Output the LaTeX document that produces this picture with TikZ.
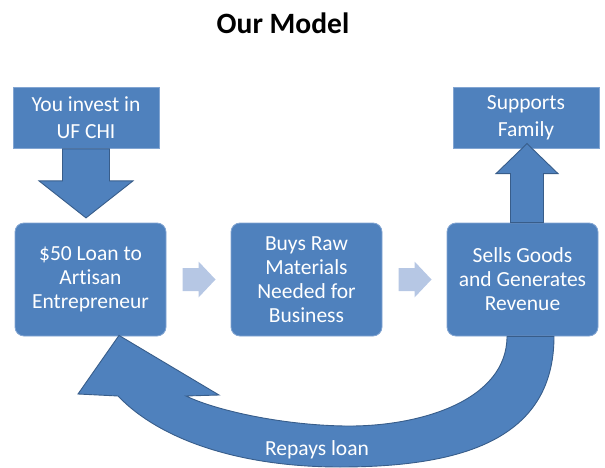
\documentclass[tikz,border=0pt]{standalone}
\usepackage{fontspec}
\setmainfont[Ligatures=NoCommon]{Carlito}
\usetikzlibrary{calc}
\definecolor{modelblue}{RGB}{79,129,189}
\definecolor{modeledge}{RGB}{56,93,138}
\definecolor{boxedge}{RGB}{130,165,210}
\definecolor{steplight}{RGB}{182,199,228}
\begin{document}
\begin{tikzpicture}[x=1pt,y=-1pt,
    boxtext/.style={text=white,align=center,font=\fontsize{21.5}{24}\selectfont},
    topbox/.style={boxtext,fill=modelblue,draw=boxedge,line width=0.8pt,minimum width=146pt,minimum height=61pt,inner sep=0pt},
    stepbox/.style={boxtext,fill=modelblue,draw=boxedge,line width=0.8pt,rounded corners=9pt,minimum width=151pt,minimum height=113pt,inner sep=0pt},
    blockarrow/.style={fill=modelblue,draw=modeledge,line width=0.9pt,line join=miter},
    lightarrow/.style={fill=steplight,draw=none}]
    \useasboundingbox (0,0) rectangle (605,468);
    \node[font=\fontsize{29.5}{34}\selectfont\bfseries] (title) at (283,23) {Our Model};
    \node[topbox] (invest) at (86,118) {You invest in\\[3pt]UF CHI};
    \node[topbox] (family) at (526,117.5) {Supports\\[3pt]Family};
    \node[stepbox] (loan) at (90.5,279.5) {\$50 Loan to\\Artisan\\Entrepreneur};
    \node[stepbox] (buys) at (306.5,279.5) {Buys Raw\\Materials\\Needed for\\Business};
    \node[stepbox] (sells) at (522.5,279.5) {Sells Goods\\and Generates\\Revenue};
    % small arrows between the steps
    \fill[lightarrow,shift={($(loan.east)!0.5!(buys.west)$)}] (-16,-11.5) -- (0,-11.5) -- (0,-18) -- (17,0) -- (0,18) -- (0,11.5) -- (-16,11.5) -- cycle;
    \fill[lightarrow,shift={($(buys.east)!0.5!(sells.west)$)}] (-16,-11.5) -- (0,-11.5) -- (0,-18) -- (17,0) -- (0,18) -- (0,11.5) -- (-16,11.5) -- cycle;
    % invest -> loan
    \draw[blockarrow,shift={(invest.south)}] (-23.5,0) -- (23.5,0) -- (23.5,32) -- (47,32) -- (0,69) -- (-47,32) -- (-23.5,32) -- cycle;
    % sells -> family
    \draw[blockarrow,shift={($(sells.north)+(4.5,0)$)}] (-16.5,0) -- (-16.5,-49) -- (-31,-49) -- (0,-79) -- (31,-49) -- (16.5,-49) -- (16.5,0) -- cycle;
    % sells -> loan
    \draw[blockarrow] ($(sells.south)+(-15.5,0)$) .. controls ($(sells.south)+(-15.5,64)$) and (420,427) .. (345,426)
        .. controls (280,425) and (215,410) .. (186,396) -- (219,395) -- ($(loan.south)+(28.5,-1)$) -- (78,394) -- (118,396)
        .. controls (160,440) and (240,467) .. (340,467)
        .. controls (460,467) and ($(sells.south)+(31.5,104)$) .. ($(sells.south)+(31.5,0)$) -- cycle;
    \node[boxtext] (repays) at (317,450) {Repays loan};
\end{tikzpicture}
\end{document}
